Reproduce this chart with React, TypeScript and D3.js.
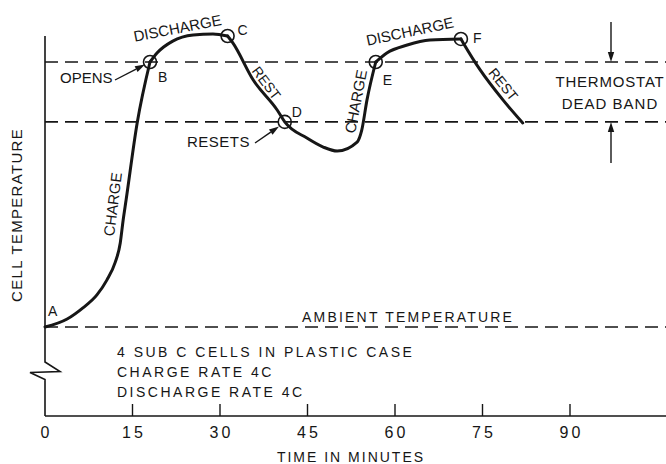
import React from "react";
import * as d3 from "d3";

const WIDTH = 666;
const HEIGHT = 464;
const FONT = "'Liberation Sans', Arial, Helvetica, sans-serif";
const INK = "#161616";

// time in minutes, cell temperature in relative units (0 = ambient, 100 = thermostat opens)
const charge1: [number, number][] = [
  [0, 0], [3.8, 3], [6.5, 7.2], [8.9, 12.1], [10.6, 17.7], [12, 24.2],
  [12.9, 31.7], [13.4, 40.4], [13.9, 47.9], [15.8, 77], [18, 100],
];
const discharge1: [number, number][] = [
  [18, 100], [19.2, 103.4], [21.9, 107.9], [25.4, 110.2], [28.8, 110.6], [31.3, 109.8],
];
const rest1Charge2: [number, number][] = [
  [31.3, 109.8], [32.2, 107.2], [35.7, 93.2], [39.8, 81.9], [41.1, 77.4], [44.9, 71.3],
  [47.7, 67.9], [50.1, 66.4], [53.5, 69.8], [54.3, 74.3], [55.2, 85.7], [56.7, 100],
];
const discharge2: [number, number][] = [
  [56.7, 100], [58.6, 103.4], [62.1, 106.4], [66, 108.3], [71.3, 108.7],
];
const rest2: [number, number][] = [
  [71.3, 108.7], [71.7, 107.2], [74.6, 97], [78.5, 85.7], [81.9, 77],
];

const pointLabels = ["B", "C", "D", "E", "F"];
const pointTimes = [18, 31.3, 41.1, 56.7, 71.3];
const pointTemps = [100, 109.8, 77.4, 100, 108.7];

const timeTicks = [0, 15, 30, 45, 60, 75, 90];
const AMBIENT = 0;
const THERMO_OPENS = 100;
const THERMO_RESETS = 77.4;

const notes = ["4 SUB C CELLS IN PLASTIC CASE", "CHARGE RATE 4C", "DISCHARGE RATE 4C"];

function Arrow({ x1, y1, x2, y2, head = 10, w = 3.2 }: any) {
  const a = Math.atan2(y2 - y1, x2 - x1);
  const bx = x2 - head * Math.cos(a);
  const by = y2 - head * Math.sin(a);
  const px = -Math.sin(a) * w;
  const py = Math.cos(a) * w;
  return (
    <g>
      <line x1={x1} y1={y1} x2={bx} y2={by} stroke={INK} strokeWidth={1.4} />
      <polygon points={`${x2},${y2} ${bx + px},${by + py} ${bx - px},${by - py}`} fill={INK} />
    </g>
  );
}

function RotText({ x, y, angle, children, size = 15, spacing = 0 }: any) {
  return (
    <text
      transform={`translate(${x},${y}) rotate(${angle})`}
      textAnchor="middle"
      fontSize={size}
      letterSpacing={spacing}
      fill={INK}
    >
      {children}
    </text>
  );
}

export default function App() {
  const x = d3.scaleLinear().domain([0, 90]).range([45, 570]);
  const y = d3.scaleLinear().domain([0, 100]).range([327, 62]);

  const line = d3
    .line<[number, number]>()
    .x((d) => x(d[0]))
    .y((d) => y(d[1]))
    .curve(d3.curveMonotoneX);

  const segments = [charge1, discharge1, rest1Charge2, discharge2, rest2];
  const x0 = x(0);
  const axisY = 416;
  const labelOffsets: Record<string, [number, number]> = {
    B: [8, 20], C: [10, -1], D: [7, -5], E: [7, 23], F: [12, 4.5],
  };

  return (
    <svg
      width={WIDTH}
      height={HEIGHT}
      style={{ position: "absolute", left: 0, top: 0, background: "#fff" }}
      fontFamily={FONT}
    >
      {/* dashed reference levels */}
      {[THERMO_OPENS, THERMO_RESETS, AMBIENT].map((lv) => (
        <line
          key={lv}
          x1={x0}
          x2={WIDTH}
          y1={y(lv)}
          y2={y(lv)}
          stroke={INK}
          strokeWidth={1.7}
          strokeDasharray="13 7"
        />
      ))}

      {/* y axis with break */}
      <path
        d={`M${x0},36 V362 L${x0 + 15},371.5 L${x0 - 15},372.5 L${x0},379.5 V${axisY}`}
        fill="none"
        stroke={INK}
        strokeWidth={1.6}
      />
      {/* x axis */}
      <line x1={x0} x2={WIDTH} y1={axisY} y2={axisY} stroke={INK} strokeWidth={1.6} />
      {timeTicks.filter((t) => t > 0).map((t) => (
        <line key={t} x1={x(t)} x2={x(t)} y1={axisY} y2={axisY - 12} stroke={INK} strokeWidth={1.4} />
      ))}
      {timeTicks.map((t) => (
        <text key={t} x={x(t) + 1.5} y={438} textAnchor="middle" fontSize={16} letterSpacing={3} fill={INK}>
          {t}
        </text>
      ))}
      <text x={351} y={462} textAnchor="middle" fontSize={14} letterSpacing={2} fill={INK}>
        TIME IN MINUTES
      </text>
      <RotText x={22} y={215} angle={-90} size={15} spacing={1.3}>
        CELL TEMPERATURE
      </RotText>

      {/* temperature curve */}
      {segments.map((s, i) => (
        <path key={i} d={line(s) as string} fill="none" stroke={INK} strokeWidth={3} strokeLinejoin="round" strokeLinecap="round" />
      ))}

      {/* key points */}
      {pointLabels.map((lb, i) => (
        <g key={lb}>
          <circle cx={x(pointTimes[i])} cy={y(pointTemps[i])} r={6.5} fill="none" stroke={INK} strokeWidth={1.6} />
          <text
            x={x(pointTimes[i]) + labelOffsets[lb][0]}
            y={y(pointTemps[i]) + labelOffsets[lb][1]}
            fontSize={14}
            fill={INK}
          >
            {lb}
          </text>
        </g>
      ))}
      <text x={x(0) + 3} y={y(0) - 11} fontSize={14} fill={INK}>A</text>

      {/* phase labels */}
      <RotText x={178.5} y={33.3} angle={-11}>DISCHARGE</RotText>
      <RotText x={411} y={36.5} angle={-12}>DISCHARGE</RotText>
      <RotText x={118} y={205} angle={-83}>CHARGE</RotText>
      <RotText x={361} y={102.5} angle={-79}>CHARGE</RotText>
      <RotText x={262.5} y={86} angle={53} size={14}>REST</RotText>
      <RotText x={499.5} y={87.5} angle={51} size={14}>REST</RotText>

      {/* thermostat annotations */}
      <text x={60} y={83} fontSize={15} fill={INK}>OPENS</text>
      <Arrow x1={115} y1={80} x2={145} y2={64.5} />
      <text x={187} y={147} fontSize={15} letterSpacing={0.5} fill={INK}>RESETS</text>
      <Arrow x1={255} y1={143} x2={279} y2={126.5} />

      <Arrow x1={611} y1={22} x2={611} y2={y(THERMO_OPENS)} />
      <Arrow x1={611} y1={163} x2={611} y2={y(THERMO_RESETS)} />
      <text x={610} y={87} textAnchor="middle" fontSize={15} letterSpacing={0.8} fill={INK}>THERMOSTAT</text>
      <text x={610} y={109} textAnchor="middle" fontSize={15} letterSpacing={1} fill={INK}>DEAD BAND</text>

      <text x={302} y={322} fontSize={14} letterSpacing={2.2} fill={INK}>AMBIENT TEMPERATURE</text>
      {notes.map((n, i) => (
        <text key={n} x={117} y={357 + i * 20} fontSize={14} letterSpacing={2.5} fill={INK}>
          {n}
        </text>
      ))}
    </svg>
  );
}
